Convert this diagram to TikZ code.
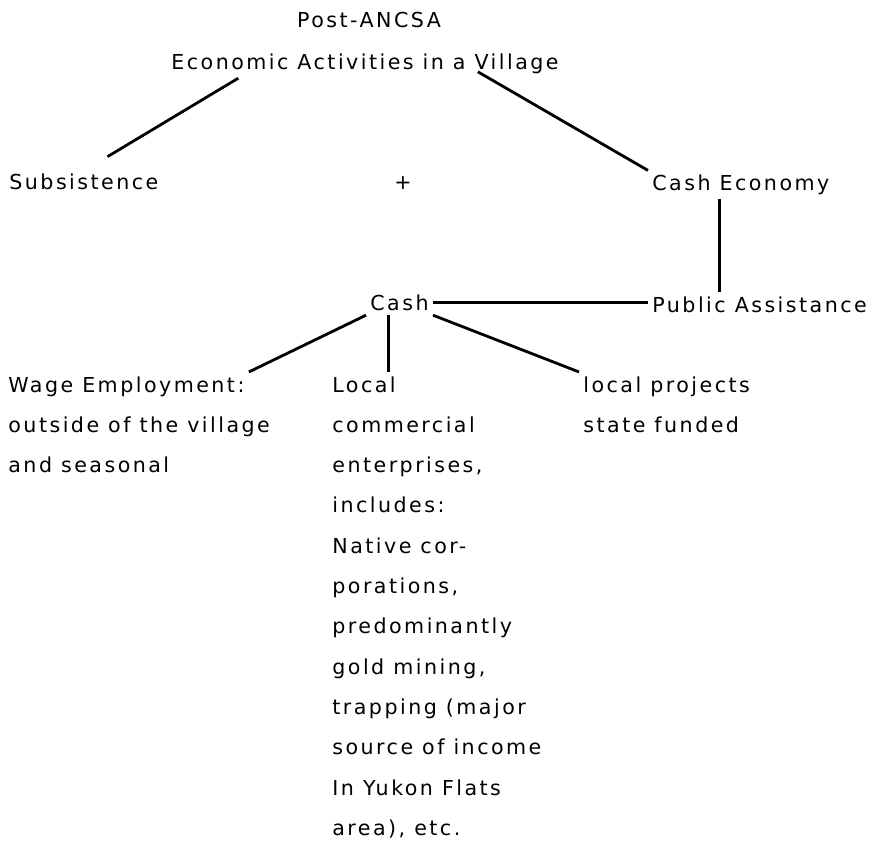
\documentclass[tikz,border=0pt]{standalone}
\usepackage{fontspec}
\setmainfont{DejaVu Sans}[LetterSpace=12]
\usetikzlibrary{calc}

\begin{document}
\begin{tikzpicture}[x=0.5pt,y=-0.5pt,
    every node/.style={inner sep=2pt,font=\fontsize{10.3pt}{20.15pt}\selectfont},
    txt/.style={anchor=base west,align=left},
    link/.style={line width=1.4pt}
]
    \useasboundingbox (0,0) rectangle (878,841);

    \node[anchor=base] (post) at (369,27.5) {Post-ANCSA};
    \node[anchor=base] (root) at (365,69.5) {Economic Activities in a Village};

    \node[txt] (sub) at (5,189.5) {Subsistence};
    \node[anchor=base] (plus) at (403,189) {+};
    \node[txt] (econ) at (648,190.5) {Cash Economy};

    \node[txt] (cash) at (366,310.5) {Cash};
    \node[txt] (pa) at (648,312.5) {Public Assistance};

    % lower row (multi-line blocks sit on their last line)
    \node[txt] (wage) at (4,392) {Wage Employment:};
    \node[txt] (wagerest) at (4,472.6) {outside of the village\\and seasonal};
    \node[txt] (local) at (328,392) {Local};
    \node[txt] (localrest) at (328,835.3) {commercial\\enterprises,\\includes:\\Native cor-\\porations,\\predominantly\\gold mining,\\trapping (major\\source of income\\In Yukon Flats\\area), etc.};
    \node[txt] (proj) at (579,392) {local projects};
    \node[txt] (projrest) at (579,432.3) {state funded};

    \draw[link] ($(root.south west)!.18!(root.south east)$) -- ($(sub.north west)!.65!(sub.north east)+(0,6.4pt)$);
    \draw[link] ($(root.south west)!.785!(root.south east)+(0,3.2pt)$) -- (econ.north west);
    \draw[link] ($(econ.south west)!.384!(econ.south east)$) coordinate (ce) -- (ce |- pa.north);
    \draw[link] (cash.east) -- (cash.east -| pa.west);
    \draw[link] (cash.south west) -- (wage.north east);
    \draw[link] ($(cash.south west)!.33!(cash.south east)$) coordinate (cl) -- (cl |- local.north);
    \draw[link] (cash.south east) -- (proj.north west);

\end{tikzpicture}
\end{document}
